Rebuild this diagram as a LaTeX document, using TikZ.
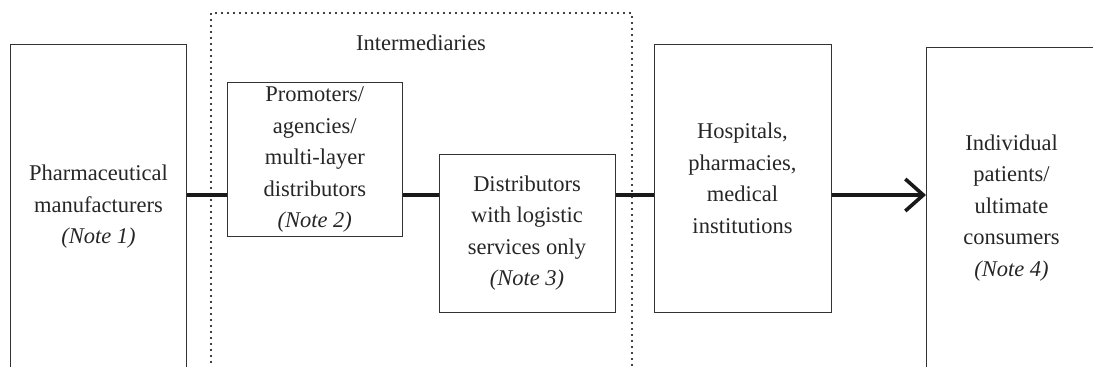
\documentclass[tikz,border=0pt]{standalone}
\usepackage{fontspec}
\setmainfont{Liberation Serif}
\usetikzlibrary{arrows.meta}
\begin{document}
\begin{tikzpicture}[x=1pt, y=-1pt,
  box/.style={rectangle, draw=black!80, line width=1pt, align=center, inner sep=0pt,
    font=\fontsize{22.5}{31.5}\selectfont, text=black!85},
  link/.style={line width=3.6pt, draw=black!90}]
\useasboundingbox (0,0) rectangle (1093,367);
\clip (0,0) rectangle (1093,367);
% intermediaries frame
\draw[line width=2.3pt, dash pattern=on 0pt off 6pt, line cap=round, black] (211,380) -- (211,13) -- (632,13) -- (632,380);
\node[font=\fontsize{22.5}{27}\selectfont, text=black!85] (inter) at (421,43) {Intermediaries};
\coordinate (flow) at (0,195);
\node[box, minimum width=176pt, minimum height=325pt] (mfr) at (98.5,207) {Pharmaceutical\\manufacturers\\\textit{(Note 1)}};
\node[box, minimum width=175.5pt, minimum height=154pt] (promo) at (314.75,159.5) {Promoters/\\agencies/\\multi-layer\\distributors\\\textit{(Note 2)}};
\node[box, minimum width=176pt, minimum height=158pt] (dist) at (527,233) {Distributors\\with logistic\\services only\\\textit{(Note 3)}};
\node[box, minimum width=177pt, minimum height=268pt] (hosp) at (742.5,178.5) {Hospitals,\\pharmacies,\\medical\\institutions};
\node[box, minimum width=170pt, minimum height=322pt] (indiv) at (1011.5,208) {Individual\\patients/\\ultimate\\consumers\\\textit{(Note 4)}};
\draw[link](mfr.east |- flow) -- (promo.west |- flow);
\draw[link](promo.east |- flow) -- (dist.west |- flow);
\draw[link](dist.east |- flow) -- (hosp.west |- flow);
\draw[link, -{Straight Barb[length=18pt, width=32pt]}](hosp.east |- flow) -- (indiv.west |- flow);

\end{tikzpicture}
\end{document}
